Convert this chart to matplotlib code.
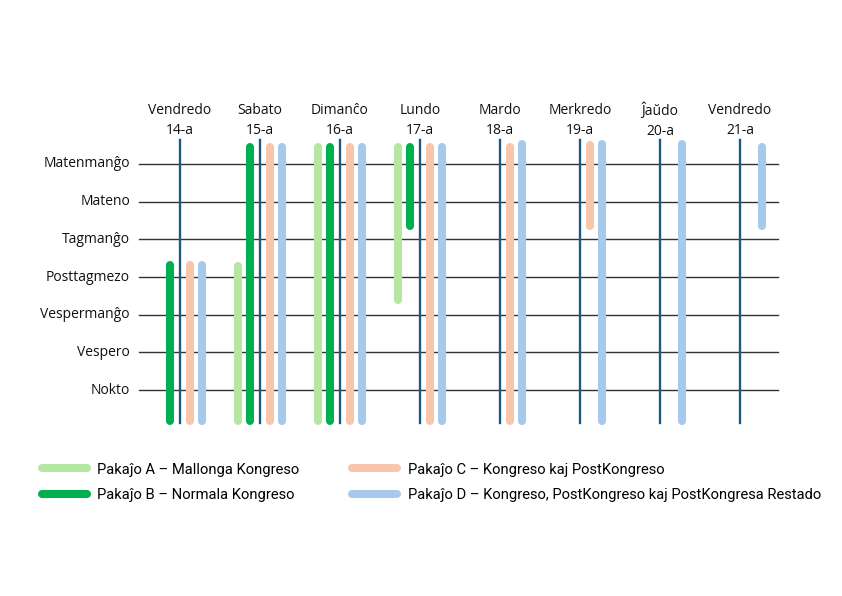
import matplotlib
matplotlib.use('Agg')
import matplotlib.pyplot as plt
from matplotlib.lines import Line2D

# tagoj kaj tempoj
tagoj = ['Vendredo\n14-a', 'Sabato\n15-a', 'Dimanĉo\n16-a', 'Lundo\n17-a',
         'Mardo\n18-a', 'Merkredo\n19-a', 'Ĵaŭdo\n20-a', 'Vendredo\n21-a']
tempoj = ['Matenmanĝo', 'Mateno', 'Tagmanĝo', 'Posttagmezo',
          'Vespermanĝo', 'Vespero', 'Nokto']

# pakaĵoj: tago, komenco, fino (en tempo-unuoj)
nomoj = ['Pakaĵo A – Mallonga Kongreso',
         'Pakaĵo B – Normala Kongreso',
         'Pakaĵo C – Kongreso kaj PostKongreso',
         'Pakaĵo D – Kongreso, PostKongreso kaj PostKongresa Restado']
koloroj = ['#b5e6a2', '#00b050', '#f7c6ab', '#a6c9ec']

A_tago = [1, 2, 3]
A_komenco = [2.6, -0.56, -0.56]
A_fino = [6.92, 6.92, 3.72]

B_tago = [0, 1, 2, 3]
B_komenco = [2.57, -0.56, -0.56, -0.56]
B_fino = [6.92, 6.92, 6.92, 1.75]

C_tago = [0, 1, 2, 3, 4, 5]
C_komenco = [2.57, -0.56, -0.56, -0.56, -0.56, -0.6]
C_fino = [6.92, 6.92, 6.92, 6.92, 6.92, 1.75]

D_tago = [0, 1, 2, 3, 4, 5, 6, 7]
D_komenco = [2.57, -0.56, -0.56, -0.56, -0.64, -0.64, -0.64, -0.56]
D_fino = [6.92, 6.92, 6.92, 6.92, 6.92, 6.92, 6.92, 1.75]

pakajoj = [(A_tago, A_komenco, A_fino),
           (B_tago, B_komenco, B_fino),
           (C_tago, C_komenco, C_fino),
           (D_tago, D_komenco, D_fino)]
deŝovoj = [-0.28, -0.12, 0.13, 0.28]

plt.rcParams['font.family'] = ['Open Sans', 'DejaVu Sans']

fig = plt.figure(figsize=(8.42, 5.96), dpi=100)
ax = fig.add_axes([0, 0, 1, 1])
ax.set_xlim(-2.25, 8.275)
ax.set_ylim(11.46, -4.35)
ax.axis('off')

# horizontalaj linioj
for i, t in enumerate(tempoj):
    ax.plot([-0.51, 7.475], [i, i], color='#333333', lw=1.0, zorder=1)
    ax.text(-0.625, i, t, ha='right', va='center', fontsize=10, color='#111111')

# tag-linioj
for j, t in enumerate(tagoj):
    ax.plot([j, j], [-0.63, 6.88], color='#1c5a7e', lw=1.7, zorder=2)
    ax.text(j, -1.15, t, ha='center', va='center', fontsize=10,
            linespacing=1.45, color='#111111')

# pakaĵaj strioj
cap = 0.106
for (tago, kom, fin), kol, d in zip(pakajoj, koloroj, deŝovoj):
    for j, k, f in zip(tago, kom, fin):
        ax.plot([j + d, j + d], [k + cap, f - cap], color=kol, lw=5.8,
                solid_capstyle='round', zorder=3)

manoj = [Line2D([0], [0], color=k, lw=5.8, solid_capstyle='round') for k in koloroj]
leg = fig.legend(manoj, nomoj, ncol=2, loc='upper left',
                 bbox_to_anchor=(0.034, 0.246), frameon=False,
                 handlelength=3.05, labelspacing=0.75, columnspacing=3.6,
                 handletextpad=0.7,
                 prop={'family': ['Roboto', 'DejaVu Sans'], 'size': 10.6})

fig.savefig('out.png', dpi=100)
